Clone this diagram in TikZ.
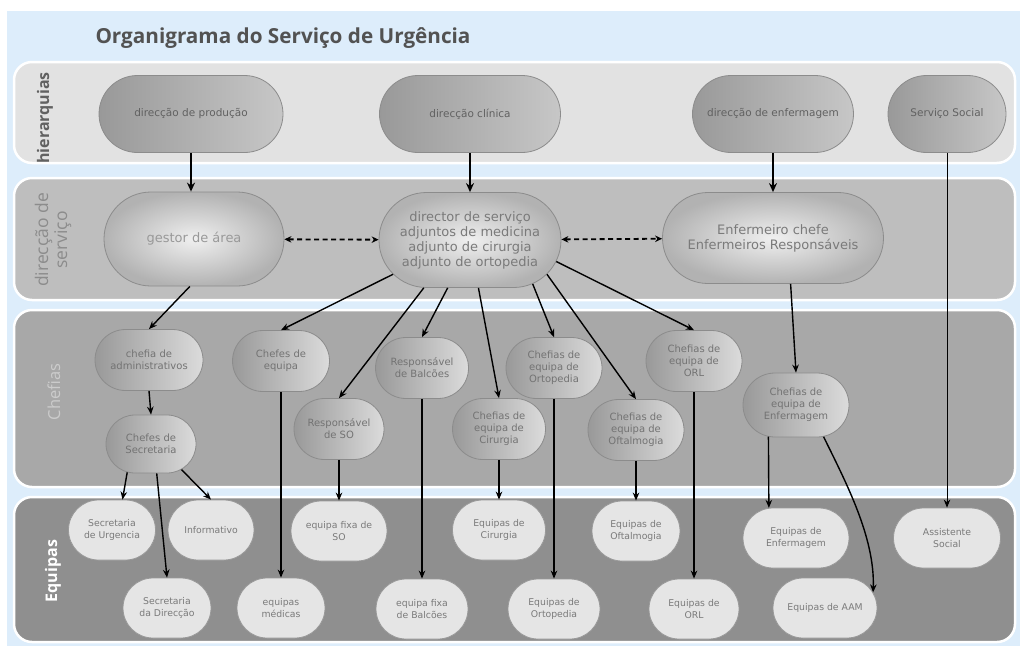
\documentclass[tikz,border=0pt]{standalone}
\usepackage{fontspec}
\setmainfont{DejaVu Sans}
\newfontfamily\lblfont{Open Sans}
\usetikzlibrary{shapes.misc,arrows.meta}
\definecolor{bgblue}{HTML}{DDEDFB}
\definecolor{bandA}{HTML}{E2E2E2}
\definecolor{bandB}{HTML}{BEBEBE}
\definecolor{bandC}{HTML}{A8A8A8}
\definecolor{bandD}{HTML}{8F8F8F}
\definecolor{txtgray}{HTML}{6E6E6E}
\begin{document}
\begin{tikzpicture}[x=1pt,y=-1pt,
  band/.style={draw=white, line width=2.5pt, rounded corners=18pt},
  bandlbl/.style={rotate=90, align=center, inner sep=0pt},
  base/.style={rounded rectangle, align=center, inner sep=1pt, draw=black!45, line width=0.8pt, text=txtgray},
  topbox/.style={base, left color=black!40, right color=black!22, minimum height=77pt, font=\fontsize{10.5}{12}\selectfont, text=black!62},
  midbox/.style={base, inner color=black!6, outer color=black!30, font=\fontsize{13}{15}\selectfont, text=black!52},
  chbox/.style={base, left color=black!40, right color=black!14, minimum height=61pt, font=\fontsize{10}{12}\selectfont, text=black!55},
  eqbox/.style={base, fill=black!10, draw=black!40, minimum height=60pt, font=\fontsize{9.3}{12}\selectfont, text=black!52},
  thickarr/.style={-{Stealth[length=9pt,width=8pt]}, line width=2.4pt},
  arr/.style={-{Stealth[length=8pt,width=6.5pt]}, line width=1.4pt},
  thinarr/.style={-{Stealth[length=8pt,width=6.5pt]}, line width=1pt},
  dasharr/.style={{Stealth[length=7pt,width=6.5pt]}-{Stealth[length=7pt,width=6.5pt]}, dash pattern=on 5pt off 3.5pt, line width=1.8pt}
]
\useasboundingbox (0,0) rectangle (1020,646);
\fill[white] (0,0) rectangle (1020,646);
\fill[bgblue] (7,11) rectangle (1020,646);
% bands
\draw[band, fill=bandA] (14,62) rectangle (1015,163);
\draw[band, fill=bandB] (14,178) rectangle (1015,300);
\draw[band, fill=bandC] (14,310) rectangle (1015,487);
\draw[band, fill=bandD] (14,497) rectangle (1015,642);
% title and band labels
\node[font=\lblfont\bfseries\fontsize{20.7}{22}\selectfont, text=black!68, inner sep=0pt] (title) at (283,38) {Organigrama do Serviço de Urgência};
\node[bandlbl, font=\lblfont\bfseries\fontsize{16}{18}\selectfont, text=black!62] (lhier) at (45,118) {hierarquias};
\node[bandlbl, font=\lblfont\fontsize{17.5}{19}\selectfont, text=black!45] (ldir) at (53,240) {direcção de\\serviço};
\node[bandlbl, font=\lblfont\fontsize{16.5}{20}\selectfont, text=black!20] (lchef) at (54,392) {Chefias};
\node[bandlbl, font=\lblfont\bfseries\fontsize{16}{20}\selectfont, text=white] (leq) at (53,571) {Equipas};
% top row
\node[topbox, minimum width=186pt] (dprod) at (191,114) {direcção de produção};
\node[topbox, minimum width=183pt] (dclin) at (470,114) {direcção clínica};
\node[topbox, minimum width=163pt] (denf) at (773,114) {direcção de enfermagem};
\node[topbox, minimum width=120pt] (ssoc) at (947,114) {Serviço Social};
% direcção de serviço
\node[midbox, minimum width=182pt, minimum height=94pt, text=black!40] (gestor) at (194,239) {gestor de área};
\node[midbox, minimum width=184pt, minimum height=95pt] (dir) at (470,240) {director de serviço\\adjuntos de medicina\\adjunto de cirurgia\\adjunto de ortopedia};
\node[midbox, minimum width=223pt, minimum height=91pt] (enf) at (773,238) {Enfermeiro chefe\\Enfermeiros Responsáveis};
% chefias
\node[chbox, minimum width=110pt] (chadm) at (149,360) {chefia de\\administrativos};
\node[chbox, minimum width=99pt] (cheq) at (281,361) {Chefes de\\equipa};
\node[chbox, minimum width=95pt] (rbal) at (422,368) {Responsável\\de Balcões};
\node[chbox, minimum width=98pt] (cort) at (554,368) {Chefias de\\equipa de\\Ortopedia};
\node[chbox, minimum width=98pt] (corl) at (694,361) {Chefias de\\equipa de\\ORL};
\node[chbox, minimum width=92pt] (rso) at (339,429) {Responsável\\de SO};
\node[chbox, minimum width=95pt] (ccir) at (499,429) {Chefias de\\equipa de\\Cirurgia};
\node[chbox, minimum width=98pt] (coft) at (636,430) {Chefias de\\equipa de\\Oftalmogia};
\node[chbox, minimum width=92pt, minimum height=58pt] (chsec) at (151,444) {Chefes de\\Secretaria};
\node[chbox, minimum width=108pt, minimum height=64pt] (chenf) at (796,405) {Chefias de\\equipa de\\Enfermagem};
% equipas
\node[eqbox, minimum width=89pt] (secu) at (112,530) {Secretaria\\de Urgencia};
\node[eqbox, minimum width=88pt] (info) at (211,530) {Informativo};
\node[eqbox, minimum width=98pt] (efso) at (339,531) {equipa fixa de\\SO};
\node[eqbox, minimum width=95pt] (ecir) at (499,530) {Equipas de\\Cirurgia};
\node[eqbox, minimum width=90pt] (eoft) at (636,531) {Equipas de\\Oftalmogia};
\node[eqbox, minimum width=108pt] (eenf) at (796,538) {Equipas de\\Enfermagem};
\node[eqbox, minimum width=109pt] (asoc) at (947,538) {Assistente\\Social};
\node[eqbox, minimum width=90pt] (secd) at (167,608) {Secretaria\\da Direcção};
\node[eqbox, minimum width=90pt] (emed) at (281,608) {equipas\\médicas};
\node[eqbox, minimum width=94pt] (efbal) at (422,609) {equipa fixa\\de Balcões};
\node[eqbox, minimum width=94pt] (eort) at (554,609) {Equipas de\\Ortopedia};
\node[eqbox, minimum width=92pt] (eorl) at (694,609) {Equipas de\\ORL};
\node[eqbox, minimum width=106pt] (eaam) at (825,608) {Equipas de AAM};
% connectors
\draw[thickarr] (dprod.south) -- (dprod.south |- gestor.north);
\draw[thickarr] (dclin.south) -- (dir.north);
\draw[thickarr] (denf.south) -- (enf.north);
\draw[thinarr] (ssoc.south) -- (asoc.north);
\draw[dasharr] (gestor) -- (dir);
\draw[dasharr] (dir) -- (enf);
\draw[arr] (gestor.265) -- (chadm.north);
\draw[arr] (dir.204) -- (cheq.north);
\draw[arr] (dir.226) -- (rso.north);
\draw[arr] (dir.245) -- (rbal.north);
\draw[arr] (dir.280) -- (ccir.north);
\draw[arr] (dir.-35) -- (cort.north);
\draw[arr] (dir.-24) -- (coft.north);
\draw[arr] (dir.-14) -- (corl.north);
\draw[arr] (enf.-69) -- (chenf.north);
\draw[arr] (chadm.south) -- (chsec.north);
\draw[arr] (chsec.230) -- (secu.71);
\draw[arr] (chsec.-79) -- (secd.north);
\draw[arr] (chsec.-40) -- (info.north);
\draw[arr] (cheq.south) -- (emed.north);
\draw[arr] (rso.south) -- (efso.north);
\draw[arr] (rbal.south) -- (efbal.north);
\draw[arr] (ccir.south) -- (ecir.north);
\draw[arr] (cort.south) -- (eort.north);
\draw[arr] (coft.south) -- (eoft.north);
\draw[arr] (corl.south) -- (eorl.north);
\draw[arr] (chenf.229) -- (eenf.132);
\draw[arr] (chenf.-49) .. controls +(22,45) and +(2,-55) .. (eaam.18);
\end{tikzpicture}
\end{document}
